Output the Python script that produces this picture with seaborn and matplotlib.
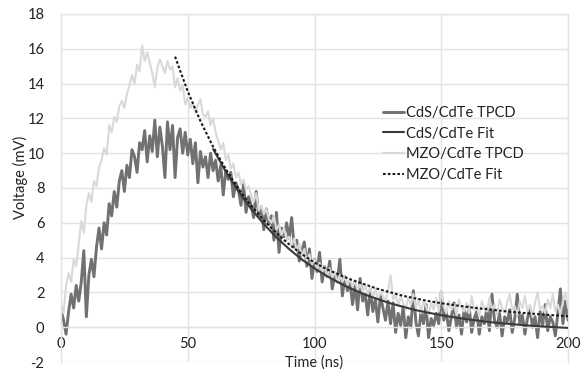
import numpy as np
import pandas as pd
import matplotlib
matplotlib.use("Agg")
import matplotlib.pyplot as plt
import seaborn as sns

# ---------------- data ----------------
time_ns = list(range(0, 201))

cds_tpcd = [
    1.0, 0.4, -0.4, 0.9, 1.9, 1.1, 2.4, 1.5, 2.6, 4.4,
    0.6, 3.0, 3.9, 2.9, 4.6, 5.7, 4.5, 6.0, 5.3, 7.1,
    6.4, 7.8, 6.9, 8.4, 9.0, 7.8, 9.3, 8.6, 10.2, 9.8,
    8.9, 10.6, 10.2, 11.3, 9.5, 11.0, 10.1, 11.9, 9.8, 11.5,
    10.4, 8.6, 11.8, 10.2, 11.6, 8.6, 10.9, 11.4, 10.0, 11.2,
    9.9, 10.8, 9.4, 10.6, 8.3, 10.1, 9.2, 9.8, 8.6, 10.0,
    9.0, 9.6, 8.4, 9.3, 7.6, 9.0, 8.5, 8.9, 7.5, 8.3,
    7.9, 7.0, 8.2, 6.6, 7.5, 7.0, 6.3, 7.8, 6.4, 6.9,
    5.6, 6.8, 5.9, 6.4, 5.0, 6.6, 4.3, 5.7, 5.2, 6.0,
    5.1, 6.3, 4.6, 5.0, 3.8, 4.4, 4.9, 3.5, 4.5, 2.8,
    3.9, 3.2, 4.3, 2.6, 3.5, 2.9, 3.8, 2.2, 3.0, 2.6,
    3.9, 1.8, 2.9, 2.1, 2.6, 1.3, 2.4, 1.0, 2.8, 1.5,
    1.9, 0.7, 2.2, 0.9, 1.6, 0.3, 1.8, 1.1, 0.4, 1.5,
    0.2, 1.4, -0.3, 0.8, 0.1, 1.2, -0.6, 0.6, 0.0, 2.1,
    0.3, -0.5, 0.9, 0.2, 1.3, -0.6, 0.5, 0.1, 0.8, 0.2,
    2.0, 0.4, 0.9, -0.2, 0.6, 1.4, 0.0, 0.7, -0.4, 1.0,
    0.3, 1.2, -0.3, 0.5, 0.9, -0.4, 0.6, 0.2, 1.1, -0.2,
    1.9, 0.4, 0.0, 0.8, -0.5, 0.6, 0.3, 1.0, -0.3, 0.5,
    1.9, 0.2, 0.7, -0.4, 0.5, 1.1, 0.0, 0.6, -0.6, 0.9,
    0.1, 1.3, -0.2, 0.6, 0.3, -0.5, 0.8, 2.2, 0.2, 1.5,
    0.4,
]

mzo_tpcd = [
    1.3, 0.8, 2.4, 3.1, 2.6, 3.9, 3.5, 4.8, 6.1, 5.4,
    7.0, 7.7, 7.2, 8.4, 8.1, 9.2, 9.6, 10.3, 9.9, 11.6,
    11.2, 12.1, 11.8, 12.7, 13.0, 12.6, 13.4, 13.9, 14.5, 14.0,
    15.1, 14.7, 16.2, 15.3, 15.8, 15.2, 14.6, 13.8, 14.9, 15.4,
    15.0, 14.6, 15.3, 14.8, 15.0, 13.8, 14.3, 13.6, 13.9, 12.8,
    13.2, 12.6, 12.9, 12.3, 12.8, 13.1, 12.2, 12.1, 12.4, 11.6,
    12.0, 11.2, 10.7, 10.2, 10.6, 9.6, 9.9, 9.1, 9.4, 8.6,
    8.9, 8.2, 8.5, 7.9, 8.1, 7.6, 7.2, 7.7, 6.7, 7.0,
    6.5, 6.8, 6.2, 6.0, 6.4, 5.6, 5.9, 5.3, 5.7, 5.0,
    5.2, 4.7, 5.1, 4.4, 4.8, 4.1, 4.5, 3.8, 4.2, 3.6,
    3.9, 3.3, 3.7, 3.1, 3.5, 2.9, 3.4, 2.8, 3.2, 2.6,
    3.0, 2.6, 2.9, 2.4, 2.8, 2.3, 2.7, 2.1, 2.5, 2.0,
    2.4, 1.9, 2.3, 1.7, 2.2, 1.6, 2.0, 1.8, 1.5, 2.1,
    3.0, 1.6, 1.9, 1.2, 1.8, 1.4, 1.0, 1.7, 1.3, 1.9,
    1.1, 1.6, 0.8, 1.5, 1.2, 0.7, 1.4, 1.0, 1.7, 0.9,
    2.1, 1.2, 0.8, 1.5, 1.0, 1.3, 0.7, 1.6, 1.1, 0.9,
    1.4, 0.8, 1.8, 1.0, 1.2, 0.6, 1.5, 1.1, 0.9, 1.7,
    1.0, 1.3, 0.7, 1.6, 1.1, 0.8, 1.4, 1.9, 1.0, 1.2,
    0.7, 1.5, 1.1, 1.8, 0.9, 1.3, 0.6, 1.4, 2.0, 1.0,
    1.2, 0.8, 1.6, 1.1, 1.9, 0.9, 1.3, 0.7, 1.5, 2.0,
    1.1,
]

cds_fit_t = [60, 65, 70, 75, 80, 85, 90, 95, 100, 105, 110, 115, 120, 125, 130,
             135, 140, 145, 150, 155, 160, 165, 170, 175, 180, 185, 190, 195, 200]
cds_fit_v = [10.24, 8.94, 7.80, 6.80, 5.93, 5.16, 4.49, 3.89, 3.38, 2.93, 2.53, 2.18,
             1.87, 1.61, 1.37, 1.17, 0.98, 0.83, 0.69, 0.57, 0.46, 0.37, 0.28, 0.21,
             0.15, 0.09, 0.04, 0.00, -0.04]

mzo_fit_t = [45, 50, 55, 60, 65, 70, 75, 80, 85, 90, 95, 100, 105, 110, 115, 120,
             125, 130, 135, 140, 145, 150, 155, 160, 165, 170, 175, 180, 185, 190, 195, 200]
mzo_fit_v = [15.55, 13.55, 11.85, 10.37, 9.08, 7.96, 6.99, 6.14, 5.40, 4.76, 4.20, 3.71,
             3.32, 3.00, 2.70, 2.45, 2.20, 2.00, 1.80, 1.65, 1.50, 1.38, 1.27, 1.17,
             1.08, 1.00, 0.92, 0.85, 0.79, 0.73, 0.68, 0.63]

x_ticks = [0, 50, 100, 150, 200]
y_ticks = [-2, 0, 2, 4, 6, 8, 10, 12, 14, 16, 18]

# ---------------- style ----------------
sns.set_style("white")
plt.rcParams['font.family'] = ['Lato', 'DejaVu Sans']
plt.rcParams['axes.unicode_minus'] = False

W, H = 583, 373
fig = plt.figure(figsize=(W / 100, H / 100), dpi=100)
ax = fig.add_axes([61 / W, 1 - 362 / H, (568 - 61) / W, (362 - 14) / H])

grid_c = "#e3e3e3"

sns.lineplot(x=time_ns, y=cds_tpcd, ax=ax, color="#717171", linewidth=2.1,
             label="CdS/CdTe TPCD", zorder=2, estimator=None)
sns.lineplot(x=time_ns, y=mzo_tpcd, ax=ax, color="#d9d9d9", linewidth=1.5,
             label="MZO/CdTe TPCD", zorder=3, estimator=None)
sns.lineplot(x=cds_fit_t, y=cds_fit_v, ax=ax, color="#3a3a3a", linewidth=1.5,
             label="CdS/CdTe Fit", zorder=4, estimator=None)
sns.lineplot(x=mzo_fit_t, y=mzo_fit_v, ax=ax, color="#1a1a1a", linewidth=1.5,
             linestyle=(0, (1.3, 1.0)), label="MZO/CdTe Fit", zorder=5, estimator=None)

ax.set_xlim(0, 200)
ax.set_ylim(-2, 18)
ax.set_xticks(x_ticks)
ax.set_yticks(y_ticks)
ax.set_xticklabels([str(v) for v in x_ticks])
ax.set_yticklabels([str(v) for v in y_ticks])

ax.grid(True, color=grid_c, linewidth=1.0)
ax.set_axisbelow(True)
for s in ["left", "right", "top"]:
    ax.spines[s].set_color(grid_c)
    ax.spines[s].set_linewidth(1.0)
ax.spines["bottom"].set_position(("data", 0))
ax.spines["bottom"].set_color(grid_c)
ax.spines["bottom"].set_linewidth(1.0)

ax.tick_params(axis="both", length=0, labelsize=10.5, colors="#222222")
ax.tick_params(axis="y", pad=12)
ax.tick_params(axis="x", pad=7)

ax.set_xlabel("Time (ns)", fontsize=10.5, color="#222222")
ax.set_ylabel("Voltage (mV)", fontsize=10.5, color="#222222")
ax.xaxis.set_label_coords(0.5, 0.02)
ax.yaxis.set_label_coords(-0.066, 0.53)

# legend in the original order
handles, labels = ax.get_legend_handles_labels()
order = ["CdS/CdTe TPCD", "CdS/CdTe Fit", "MZO/CdTe TPCD", "MZO/CdTe Fit"]
hmap = dict(zip(labels, handles))
leg = ax.legend([hmap[k] for k in order], order, loc="upper left",
                bbox_to_anchor=(383 / W, 1 - 106 / H), bbox_transform=fig.transFigure,
                frameon=False, fontsize=10.5, handlelength=1.45, handletextpad=0.15,
                labelspacing=0.45, borderpad=0, borderaxespad=0)
for t in leg.get_texts():
    t.set_color("#222222")

fig.savefig("out.png", dpi=100)
